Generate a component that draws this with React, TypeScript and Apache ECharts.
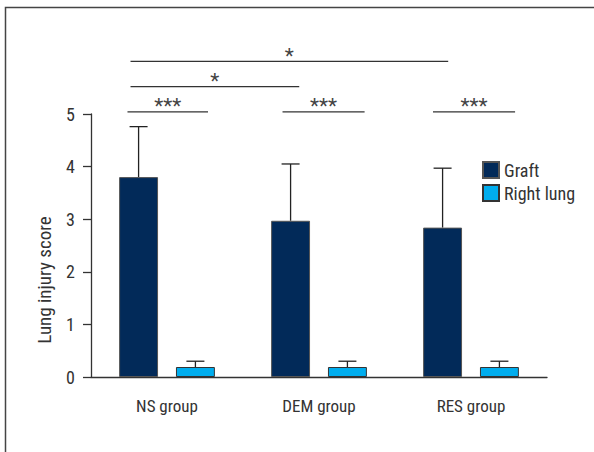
import React, { useEffect, useRef } from "react";
import * as echarts from "echarts";

const categories = ["NS group", "DEM group", "RES group"];
const graftMean = [3.8, 2.97, 2.84];
const graftSD = [0.96, 1.08, 1.13];
const rightMean = [0.19, 0.19, 0.19];
const rightSD = [0.11, 0.11, 0.11];
const yTicks = [0, 1, 2, 3, 4, 5];
// [start (category units from NS), end, y value, label]
const brackets: [number, number, number, string][] = [
  [-0.26, 0.27, 5.04, "***"],
  [0.76, 1.3, 5.04, "***"],
  [1.75, 2.29, 5.04, "***"],
  [-0.24, 0.87, 5.52, "*"],
  [-0.24, 1.85, 6.0, "*"],
];

const FONT = "'Roboto Condensed', 'Liberation Sans Narrow', sans-serif";
const CAT_GAP = 0.37;
const BAR_GAP = 0.46;
const TEXT = "#333";

export default function App() {
  const ref = useRef<HTMLDivElement>(null);
  useEffect(() => {
    document.body.style.margin = "0";
    const chart = echarts.init(ref.current!, undefined, { renderer: "svg" });

    const barOffset = (api: any) => {
      const band = api.size([1, 0])[0];
      const group = band * (1 - CAT_GAP);
      const bw = group / (2 + BAR_GAP);
      return (bw + BAR_GAP * bw) / 2;
    };

    const errSeries = (means: number[], sds: number[], side: number) => ({
      type: "custom",
      z: 1,
      silent: true,
      data: means.map((m, i) => [i, m, m + sds[i]]),
      renderItem: (params: any, api: any) => {
        const i = api.value(0);
        const off = barOffset(api) * side;
        const p0 = api.coord([i, api.value(1)]);
        const p1 = api.coord([i, api.value(2)]);
        const x = p0[0] + off;
        const style = { stroke: "#222", lineWidth: 1.3 };
        return {
          type: "group",
          children: [
            { type: "line", shape: { x1: x, y1: p0[1], x2: x, y2: p1[1] }, style },
            { type: "line", shape: { x1: x - 9, y1: p1[1], x2: x + 9, y2: p1[1] }, style },
          ],
        };
      },
    });

    chart.setOption({
      animation: false,
      grid: { left: 91, right: 47, top: 114, bottom: 75, containLabel: false },
      legend: {
        orient: "vertical",
        left: 477,
        top: 156,
        itemWidth: 16,
        itemHeight: 16,
        itemGap: 5,
        icon: "rect",
        data: ["Graft", "Right lung"],
        textStyle: { fontFamily: FONT, fontSize: 18, color: TEXT },
      },
      xAxis: {
        type: "category",
        data: categories,
        axisLine: { lineStyle: { color: TEXT, width: 1.3 } },
        axisTick: { alignWithLabel: true, length: 10, lineStyle: { color: TEXT, width: 1.3 } },
        axisLabel: { margin: 20, fontFamily: FONT, fontSize: 17, color: TEXT },
      },
      yAxis: {
        type: "value",
        min: 0,
        max: 5,
        interval: 1,
        splitLine: { show: false },
        axisLine: { show: true, lineStyle: { color: TEXT, width: 1.3 } },
        axisTick: { show: true, length: 8, lineStyle: { color: TEXT, width: 1.3 } },
        axisLabel: {
          margin: 16,
          fontFamily: FONT,
          fontSize: 18,
          color: TEXT,
          formatter: (v: number) => (yTicks.includes(v) ? String(v) : ""),
        },
      },
      series: [
        {
          name: "Graft",
          type: "bar",
          data: graftMean,
          barCategoryGap: CAT_GAP * 100 + "%",
          barGap: BAR_GAP * 100 + "%",
          itemStyle: { color: "#022a59", borderColor: "#555", borderWidth: 1 },
          z: 2,
        },
        {
          name: "Right lung",
          type: "bar",
          data: rightMean,
          itemStyle: { color: "#00adee", borderColor: "#333", borderWidth: 1 },
          z: 2,
        },
        errSeries(graftMean, graftSD, -1),
        errSeries(rightMean, rightSD, 1),
        {
          type: "custom",
          silent: true,
          clip: false,
          data: brackets.map((b) => [b[0], b[1], b[2], b[3]]),
          renderItem: (params: any, api: any) => {
            const b = brackets[params.dataIndex];
            const band = api.size([1, 0])[0];
            const c = api.coord([0, b[2]]);
            const x1 = c[0] + b[0] * band;
            const x2 = c[0] + b[1] * band;
            return {
              type: "group",
              children: [
                { type: "line", shape: { x1, y1: c[1], x2, y2: c[1] }, style: { stroke: "#333", lineWidth: 1.3 } },
                {
                  type: "text",
                  x: (x1 + x2) / 2,
                  y: c[1] - 16,
                  style: {
                    text: b[3],
                    fontFamily: FONT,
                    fontSize: 21,
                    fill: "#444",
                    align: "center",
                    verticalAlign: "top",
                  },
                },
              ],
            };
          },
        },
      ],
      graphic: [
        {
          type: "rect",
          shape: { x: 5.5, y: 7.5, width: 700, height: 600 },
          style: { fill: "none", stroke: "#444", lineWidth: 1.5 },
          silent: true,
        },
        {
          type: "text",
          x: 44,
          y: 280,
          rotation: Math.PI / 2,
          style: {
            text: "Lung injury score",
            fontFamily: FONT,
            fontSize: 19,
            fill: TEXT,
            align: "center",
            verticalAlign: "middle",
          },
        },
      ],
    });
    return () => chart.dispose();
  }, []);
  return <div ref={ref} style={{ width: 594, height: 452 }} />;
}
